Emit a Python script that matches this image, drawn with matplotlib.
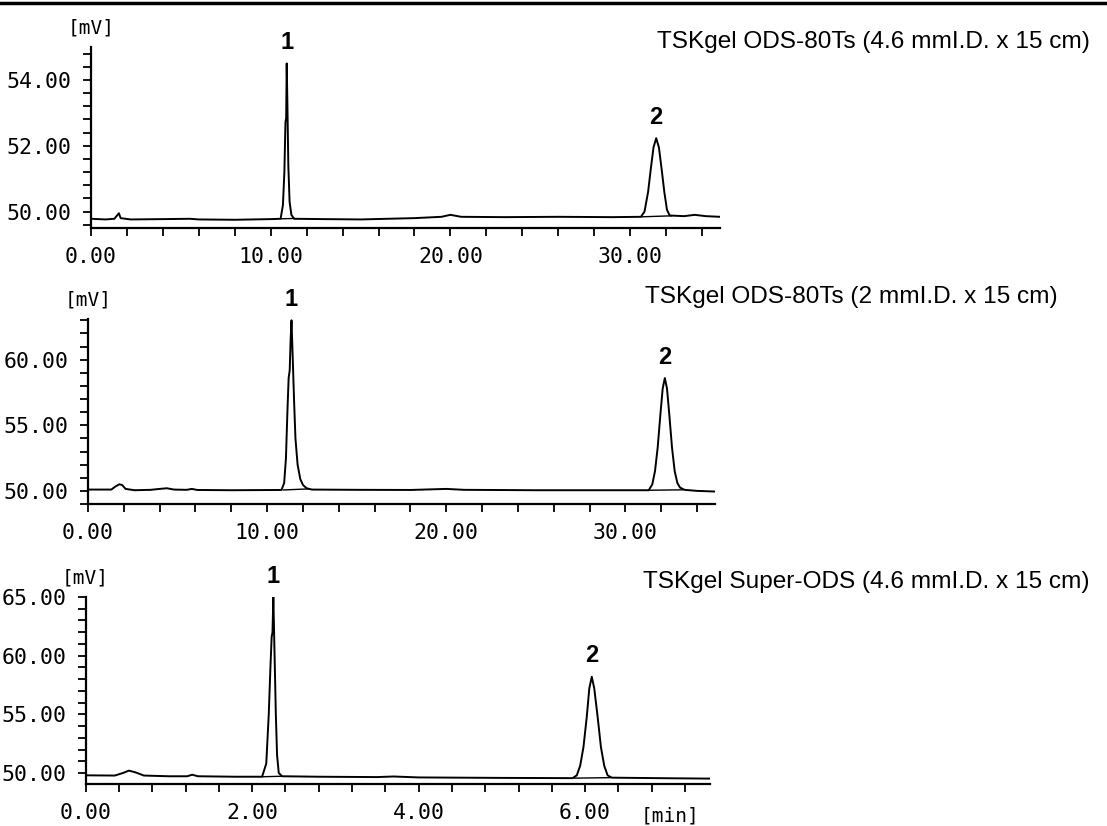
import matplotlib
matplotlib.use('Agg')
import matplotlib.pyplot as plt
from matplotlib.lines import Line2D
from matplotlib.ticker import MultipleLocator, FormatStrFormatter
import numpy as np

# column names
titles = ['TSKgel ODS-80Ts (4.6 mmI.D. x 15 cm)',
          'TSKgel ODS-80Ts (2 mmI.D. x 15 cm)',
          'TSKgel Super-ODS (4.6 mmI.D. x 15 cm)']
peak_names = ['1', '2']

# trace 1 : time [min], signal [mV]
t1 = [0.0, 0.8, 1.3, 1.45, 1.55, 1.65, 2.2, 4.0, 5.5, 6.0, 8.0, 10.0, 10.55,
      10.68, 10.76, 10.82, 10.86, 10.89, 10.93, 10.98, 11.05, 11.15, 11.3,
      13.0, 15.0, 18.0, 19.5, 20.0, 20.6, 23.0, 26.0, 29.0, 30.6, 30.8, 31.0,
      31.15, 31.3, 31.45, 31.6, 31.75, 31.9, 32.05, 32.2, 33.0, 33.6, 34.2, 35.0]
v1 = [49.78, 49.76, 49.78, 49.88, 49.95, 49.8, 49.76, 49.77, 49.78, 49.76,
      49.75, 49.77, 49.78, 50.2, 51.2, 52.7, 52.85, 54.5, 53.2, 51.4, 50.3,
      49.9, 49.78, 49.77, 49.76, 49.8, 49.84, 49.9, 49.84, 49.83, 49.84, 49.83,
      49.84, 50.0, 50.6, 51.3, 51.95, 52.23, 51.95, 51.3, 50.6, 50.05, 49.88,
      49.86, 49.9, 49.86, 49.84]

# trace 2
t2 = [0.0, 1.3, 1.55, 1.75, 1.9, 2.1, 2.6, 3.5, 4.0, 4.4, 4.8, 5.5, 5.8, 6.1,
      8.0, 10.8, 10.95, 11.05, 11.13, 11.2, 11.26, 11.31, 11.36, 11.42, 11.5,
      11.58, 11.7, 11.85, 12.0, 12.2, 12.5, 15.0, 18.0, 20.0, 21.0, 25.0, 28.0,
      31.3, 31.5, 31.65, 31.8, 31.95, 32.08, 32.2, 32.32, 32.45, 32.6, 32.75,
      32.9, 33.05, 33.3, 34.0, 35.0]
v2 = [50.1, 50.1, 50.35, 50.5, 50.45, 50.15, 50.05, 50.08, 50.15, 50.2, 50.1,
      50.08, 50.15, 50.07, 50.05, 50.07, 50.6, 52.5, 56.0, 58.6, 59.2, 61.5,
      63.0, 60.5, 57.0, 54.0, 52.0, 50.9, 50.45, 50.2, 50.1, 50.08, 50.07,
      50.15, 50.08, 50.05, 50.05, 50.05, 50.5, 51.5, 53.3, 55.8, 57.8, 58.6,
      57.8, 55.8, 53.3, 51.5, 50.6, 50.25, 50.08, 50.0, 49.95]

# trace 3
t3 = [0.0, 0.35, 0.45, 0.52, 0.6, 0.7, 1.0, 1.22, 1.28, 1.35, 1.8, 2.12, 2.17,
      2.2, 2.22, 2.235, 2.245, 2.255, 2.27, 2.285, 2.3, 2.32, 2.36, 2.8, 3.5,
      3.7, 4.0, 5.0, 5.85, 5.9, 5.94, 5.98, 6.02, 6.05, 6.08, 6.11, 6.15, 6.19,
      6.23, 6.27, 6.32, 7.0, 7.5]
v3 = [49.8, 49.78, 50.0, 50.2, 50.05, 49.78, 49.72, 49.72, 49.85, 49.72, 49.68,
      49.68, 50.8, 55.0, 59.0, 61.6, 62.0, 65.0, 60.0, 55.0, 51.5, 50.0, 49.72,
      49.68, 49.65, 49.7, 49.62, 49.58, 49.56, 49.8, 50.6, 52.2, 54.8, 57.2,
      58.2, 57.2, 54.8, 52.2, 50.6, 49.8, 49.6, 49.55, 49.52]

# retention times of the labelled peaks
rt1 = [10.89, 31.45]
rt2 = [11.36, 32.2]
rt3 = [2.255, 6.08]

# integration baselines under each peak (start/end)
bl1 = [([10.6, 11.3], [49.78, 49.79]), ([30.65, 32.3], [49.84, 49.87])]
bl2 = [([10.9, 12.3], [50.07, 50.15]), ([31.35, 33.2], [50.05, 50.08])]
bl3 = [([2.13, 2.35], [49.68, 49.72]), ([5.87, 6.3], [49.56, 49.6])]

W, H = 1107, 826
fig = plt.figure(figsize=(W / 100, H / 100), dpi=100)

mono = 'DejaVu Sans Mono'
sans = 'Liberation Sans'

def px_axes(left, right, top, bottom):
    return fig.add_axes([left / W, 1 - bottom / H, (right - left) / W, (bottom - top) / H])

panels = [
    dict(box=(91, 720, 47, 228), t=t1, v=v1, rt=rt1, bl=bl1, xlim=(0, 35), ylim=(49.5, 55.0),
         xmaj=10, xmin=2, ymaj=2, ymin=0.4, title_xy=(657, 42)),
    dict(box=(88, 715, 319, 504), t=t2, v=v2, rt=rt2, bl=bl2, xlim=(0, 35), ylim=(49.0, 63.1),
         xmaj=10, xmin=2, ymaj=5, ymin=1, title_xy=(645, 297)),
    dict(box=(85.6, 710, 597, 784), t=t3, v=v3, rt=rt3, bl=bl3, xlim=(0, 7.5), ylim=(49.06, 65.0),
         xmaj=2, xmin=0.4, ymaj=5, ymin=1, title_xy=(643, 582)),
]

for p, title in zip(panels, titles):
    ax = px_axes(*p['box'])
    ax.plot(p['t'], p['v'], color='black', lw=1.4)
    for bx, by in p['bl']:
        ax.plot(bx, by, color='black', lw=1.0)
    ax.set_xlim(*p['xlim'])
    ax.set_ylim(*p['ylim'])
    ax.spines['top'].set_visible(False)
    ax.spines['right'].set_visible(False)
    ax.spines['left'].set_linewidth(1.6)
    ax.spines['bottom'].set_linewidth(1.6)
    ax.xaxis.set_major_locator(MultipleLocator(p['xmaj']))
    ax.xaxis.set_minor_locator(MultipleLocator(p['xmin']))
    ax.yaxis.set_major_locator(MultipleLocator(p['ymaj']))
    ax.yaxis.set_minor_locator(MultipleLocator(p['ymin']))
    ax.xaxis.set_major_formatter(FormatStrFormatter('%.2f'))
    ax.yaxis.set_major_formatter(FormatStrFormatter('%.2f'))
    ax.tick_params(which='both', direction='out', length=6, width=1.3)
    ax.tick_params(axis='y', which='major', pad=8)
    ax.tick_params(axis='x', which='major', pad=8)
    for lab in ax.get_xticklabels() + ax.get_yticklabels():
        lab.set_fontfamily(mono)
        lab.set_fontsize(15.5)
    ax.patch.set_visible(False)

    # unit label above the y axis
    ax.annotate('[mV]', xy=(0, 1), xycoords='axes fraction', xytext=(0, 14),
                textcoords='offset points', ha='center', va='center',
                fontfamily=mono, fontsize=14)

    # peak numbers
    for name, rt in zip(peak_names, p['rt']):
        top = np.interp(rt, p['t'], p['v'])
        ax.annotate(name, xy=(rt, top), xytext=(0, 15), textcoords='offset points',
                    ha='center', va='center', fontfamily=sans, fontweight='bold',
                    fontsize=17, annotation_clip=False)

    tx, ty = p['title_xy']
    fig.text(tx / W, 1 - ty / H, title, ha='left', va='center',
             fontfamily=sans, fontsize=17.6)

# time unit on the last panel
ax.annotate('[min]', xy=(1, 0), xycoords='axes fraction', xytext=(-29, -23),
            textcoords='offset points', ha='center', va='center',
            fontfamily=mono, fontsize=14)

# dark edge along the top of the scanned page
fig.add_artist(Line2D([0, 1], [1 - 3 / H, 1 - 3 / H], transform=fig.transFigure,
                      color='black', lw=2.5))

fig.savefig('out.png', dpi=100, facecolor='white')
